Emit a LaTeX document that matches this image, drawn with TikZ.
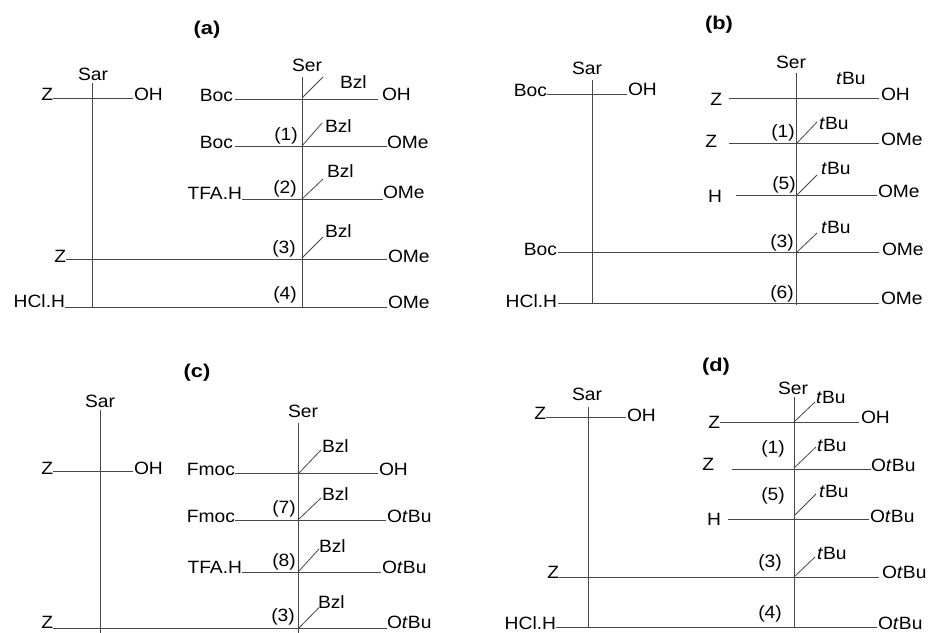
\documentclass[tikz,border=0pt]{standalone}
\usepackage{fontspec}
\setmainfont{Liberation Sans}[FakeStretch=1.08]
\newfontfamily\ttlfont{Liberation Sans}[FakeStretch=1.18]
\tikzset{
  bond/.style={draw=black!72, line width=0.8pt},
  lab/.style={inner sep=0pt, outer sep=0pt, font=\fontsize{17.8}{20}\selectfont},
  ttl/.style={inner sep=0pt, outer sep=0pt, font=\ttlfont\fontsize{18.5}{20}\selectfont\bfseries},
}
\newcommand\hbnd[4]{\coordinate (#1s) at (#2,#4); \coordinate (#1e) at (#3,#4); \draw[bond] (#1s) -- (#1e);}
\newcommand\slk[5]{\coordinate (#1p) at (#2,#3); \coordinate (#1q) at (#4,#5); \draw[bond] (#1p) -- (#1q);}
\newcommand\tbuu{\textit{t}Bu}
\begin{document}
\begin{tikzpicture}[x=1pt,y=-1pt]
\useasboundingbox (0,0) rectangle (928,632);
\clip (0,0) rectangle (928,632);
\fill[white] (0,0) rectangle (928,632);

% ================= (a) =================
\node[ttl,anchor=base] (ta) at (207,34.5) {(a)};
\node[lab,anchor=base] (aSar) at (93,80) {Sar};
\coordinate (aSt) at (92,83); \coordinate (aSb) at (92,307);
\draw[bond] (aSt) -- (aSb);
\hbnd{a0}{53}{133}{98}
\node[lab,anchor=base east] (a0L) at (53,100) {Z};
\node[lab,anchor=base west] (a0R) at (134,100) {OH};
\node[lab,anchor=base] (aSer) at (307,71) {Ser};
\coordinate (aRt) at (302,77); \coordinate (aRb) at (302,308);
\draw[bond] (aRt) -- (aRb);
% row 1
\hbnd{a1}{235}{378}{99}
\node[lab,anchor=base east] (a1L) at (233,101) {Boc};
\node[lab,anchor=base west] (a1R) at (382,100.5) {OH};
\node[lab,anchor=base west] (a1B) at (340,88) {Bzl};
\slk{a1s}{302}{98}{323}{77}
% row 2
\hbnd{a2}{235}{387}{146}
\node[lab,anchor=base east] (a2L) at (233,148) {Boc};
\node[lab,anchor=base west] (a2R) at (387,148.5) {OMe};
\node[lab,anchor=base] (a2N) at (286,140) {(1)};
\node[lab,anchor=base west] (a2B) at (325,132) {Bzl};
\slk{a2s}{302}{146}{322}{123}
% row 3
\hbnd{a3}{242}{383}{199}
\node[lab,anchor=base east] (a3L) at (242,199.5) {TFA.H};
\node[lab,anchor=base west] (a3R) at (383,198.5) {OMe};
\node[lab,anchor=base] (a3N) at (285,193) {(2)};
\node[lab,anchor=base west] (a3B) at (327,177) {Bzl};
\slk{a3s}{302}{199}{323}{179}
% row 4
\hbnd{a4}{66}{387}{259}
\node[lab,anchor=base east] (a4L) at (66,262) {Z};
\node[lab,anchor=base west] (a4R) at (388,262) {OMe};
\node[lab,anchor=base] (a4N) at (284,253) {(3)};
\node[lab,anchor=base west] (a4B) at (325,237) {Bzl};
\slk{a4s}{302}{258}{323}{237}
% row 5
\hbnd{a5}{65}{387}{307}
\node[lab,anchor=base east] (a5L) at (65,307.5) {HCl.H};
\node[lab,anchor=base west] (a5R) at (388,308) {OMe};
\node[lab,anchor=base] (a5N) at (285,299) {(4)};

% ================= (b) =================
\node[ttl,anchor=base] (tb) at (719,29.5) {(b)};
\node[lab,anchor=base] (bSar) at (587,74) {Sar};
\coordinate (bSt) at (592,80); \coordinate (bSb) at (592,303);
\draw[bond] (bSt) -- (bSb);
\hbnd{b0}{547}{627}{94}
\node[lab,anchor=base east] (b0L) at (547,96) {Boc};
\node[lab,anchor=base west] (b0R) at (628,95) {OH};
\node[lab,anchor=base] (bSer) at (791,68) {Ser};
\coordinate (bRt) at (796,73); \coordinate (bRb) at (796,305);
\draw[bond] (bRt) -- (bRb);
% row 1
\hbnd{b1}{729}{879}{98}
\node[lab,anchor=base east] (b1L) at (722,105) {Z};
\node[lab,anchor=base west] (b1R) at (881,100) {OH};
\node[lab,anchor=base west] (b1B) at (836,84) {\tbuu};
% row 2
\hbnd{b2}{729}{879}{143}
\node[lab,anchor=base east] (b2L) at (717,147) {Z};
\node[lab,anchor=base west] (b2R) at (881,145) {OMe};
\node[lab,anchor=base] (b2N) at (783,137) {(1)};
\node[lab,anchor=base west] (b2B) at (819,129) {\tbuu};
\slk{b2s}{797}{143}{817}{122}
% row 3
\hbnd{b3}{736}{877}{195}
\node[lab,anchor=base east] (b3L) at (722,202) {H};
\node[lab,anchor=base west] (b3R) at (878,197) {OMe};
\node[lab,anchor=base] (b3N) at (784,189) {(5)};
\node[lab,anchor=base west] (b3B) at (821,174) {\tbuu};
\slk{b3s}{797}{195}{817}{175}
% row 4
\hbnd{b4}{558}{879}{252}
\node[lab,anchor=base east] (b4L) at (557,255) {Boc};
\node[lab,anchor=base west] (b4R) at (882,255) {OMe};
\node[lab,anchor=base] (b4N) at (782,247) {(3)};
\node[lab,anchor=base west] (b4B) at (821,233) {\tbuu};
\slk{b4s}{797}{252}{817}{233}
% row 5
\hbnd{b5}{558}{879}{303}
\node[lab,anchor=base east] (b5L) at (557,307) {HCl.H};
\node[lab,anchor=base west] (b5R) at (881,304) {OMe};
\node[lab,anchor=base] (b5N) at (782,298) {(6)};

% ================= (c) =================
\node[ttl,anchor=base] (tc) at (197,377) {(c)};
\node[lab,anchor=base] (cSar) at (100,407) {Sar};
\coordinate (cSt) at (100,410); \coordinate (cSb) at (100,645);
\draw[bond] (cSt) -- (cSb);
\hbnd{c0}{53}{133}{471}
\node[lab,anchor=base east] (c0L) at (53,474) {Z};
\node[lab,anchor=base west] (c0R) at (134,474) {OH};
\node[lab,anchor=base] (cSer) at (303,417) {Ser};
\coordinate (cRt) at (298,423); \coordinate (cRb) at (298,645);
\draw[bond] (cRt) -- (cRb);
% row 1
\hbnd{c1}{235}{378}{473}
\node[lab,anchor=base east] (c1L) at (235,475) {Fmoc};
\node[lab,anchor=base west] (c1R) at (379,475) {OH};
\node[lab,anchor=base west] (c1B) at (322,452) {Bzl};
\slk{c1s}{299}{473}{321}{450}
% row 2
\hbnd{c2}{235}{386}{520}
\node[lab,anchor=base east] (c2L) at (235,522) {Fmoc};
\node[lab,anchor=base west] (c2R) at (387,522) {O\tbuu};
\node[lab,anchor=base] (c2N) at (284,513) {(7)};
\node[lab,anchor=base west] (c2B) at (322,500) {Bzl};
\slk{c2s}{299}{519}{321}{498}
% row 3
\hbnd{c3}{242}{381}{572}
\node[lab,anchor=base east] (c3L) at (242,573) {TFA.H};
\node[lab,anchor=base west] (c3R) at (382,573) {O\tbuu};
\node[lab,anchor=base] (c3N) at (284,566) {(8)};
\node[lab,anchor=base west] (c3B) at (319,552) {Bzl};
\slk{c3s}{299}{571}{319}{549}
% row 4
\hbnd{c4}{53}{387}{628.5}
\node[lab,anchor=base east] (c4L) at (53,628.5) {Z};
\node[lab,anchor=base west] (c4R) at (387,628.5) {O\tbuu};
\node[lab,anchor=base] (c4N) at (283,621.5) {(3)};
\node[lab,anchor=base west] (c4B) at (318,608.5) {Bzl};
\slk{c4s}{299}{628}{319}{607.5}

% ================= (d) =================
\node[ttl,anchor=base] (td) at (716,371) {(d)};
\node[lab,anchor=base] (dSar) at (587,400) {Sar};
\coordinate (dSt) at (588,407); \coordinate (dSb) at (588,628);
\draw[bond] (dSt) -- (dSb);
\hbnd{d0}{546}{626}{417}
\node[lab,anchor=base east] (d0L) at (546,419) {Z};
\node[lab,anchor=base west] (d0R) at (627,421) {OH};
\node[lab,anchor=base] (dSer) at (793,394) {Ser};
\coordinate (dRt) at (794,397); \coordinate (dRb) at (794,627);
\draw[bond] (dRt) -- (dRb);
% row 1
\hbnd{d1}{720}{859}{422}
\node[lab,anchor=base east] (d1L) at (720,428) {Z};
\node[lab,anchor=base west] (d1R) at (861,423) {OH};
\node[lab,anchor=base west] (d1B) at (816,403) {\tbuu};
\slk{d1s}{794}{422}{815}{402}
% row 2
\hbnd{d2}{732}{871}{469}
\node[lab,anchor=base east] (d2L) at (714,470) {Z};
\node[lab,anchor=base west] (d2R) at (871,471) {O\tbuu};
\node[lab,anchor=base] (d2N) at (773,453) {(1)};
\node[lab,anchor=base west] (d2B) at (817,451) {\tbuu};
\slk{d2s}{794}{468}{816}{447}
% row 3
\hbnd{d3}{728}{869}{519}
\node[lab,anchor=base east] (d3L) at (721,525) {H};
\node[lab,anchor=base west] (d3R) at (870,522) {O\tbuu};
\node[lab,anchor=base] (d3N) at (773,500) {(5)};
\node[lab,anchor=base west] (d3B) at (819,497) {\tbuu};
\slk{d3s}{795}{515}{816}{494}
% row 4
\hbnd{d4}{559}{879}{577}
\node[lab,anchor=base east] (d4L) at (559,578) {Z};
\node[lab,anchor=base west] (d4R) at (882,578) {O\tbuu};
\node[lab,anchor=base] (d4N) at (770,567) {(3)};
\node[lab,anchor=base west] (d4B) at (817,559) {\tbuu};
\slk{d4s}{794}{577}{815}{557}
% row 5
\hbnd{d5}{556}{877}{627}
\node[lab,anchor=base east] (d5L) at (556,629) {HCl.H};
\node[lab,anchor=base west] (d5R) at (878,629.5) {O\tbuu};
\node[lab,anchor=base] (d5N) at (770,618) {(4)};
\end{tikzpicture}
\end{document}
